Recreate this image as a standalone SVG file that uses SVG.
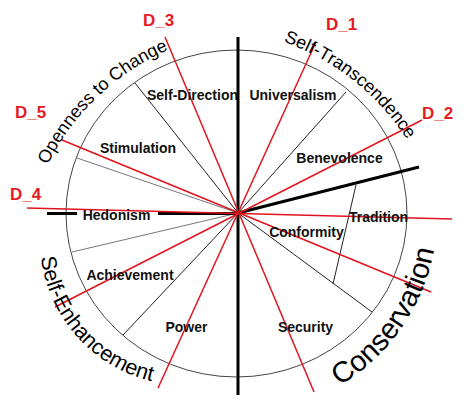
<svg xmlns="http://www.w3.org/2000/svg" width="474" height="409" viewBox="0 0 474 409">
<defs>
<style>
.thin{stroke:#222;stroke-width:1;fill:none}
.gray{stroke:#777;stroke-width:1;fill:none}
.thick{stroke:#000;stroke-width:3;fill:none}
.red{stroke:#e0141e;stroke-width:1.5;fill:none}
.lbl{font-family:"Liberation Sans",Arial,sans-serif;font-weight:bold;font-size:14px;fill:#111;text-anchor:middle}
.dl{font-family:"Liberation Sans",Arial,sans-serif;font-weight:bold;font-size:17px;fill:#e41b23}
.arc{font-family:"Liberation Sans",Arial,sans-serif;fill:#000}
</style>
<path id="pOpen" d="M47.5,165 A243,243 0 0 1 205.1,37.3"/>
<path id="pTrans" d="M283.4,41.7 A242,242 0 0 1 430.4,187.2"/>
<path id="pEnh" d="M41,257.2 A145,145 0 0 0 210.2,382.8"/>
<path id="pCons" d="M339.5,385.8 A201,201 0 0 0 436.7,196"/>
</defs>
<rect width="474" height="409" fill="#fff"/>
<g id="wheel">
<ellipse cx="236.5" cy="213.5" rx="170.5" ry="163.5" stroke="#444" stroke-width="1" fill="none"/>
</g>
<g id="connectors">
<line class="thin" x1="238" y1="213" x2="135" y2="83"/>
<line class="gray" x1="238" y1="213" x2="77" y2="158"/>
<line class="thin" x1="238" y1="213" x2="346" y2="92"/>
<line class="gray" x1="238" y1="213" x2="72" y2="252"/>
<line class="thin" x1="238" y1="213" x2="123" y2="335"/>
<line class="thin" x1="238" y1="213" x2="372" y2="312"/>
<line class="thin" x1="356" y1="185" x2="333" y2="284"/>
<line class="thick" x1="238" y1="37" x2="238" y2="395"/>
<line class="thick" x1="238" y1="213" x2="419" y2="167"/>
<line class="thick" x1="47" y1="213.5" x2="77" y2="213.5"/>
<line class="thick" x1="158" y1="213.5" x2="238" y2="213.5"/>
<line class="red" x1="316" y1="42" x2="158" y2="388"/>
<line class="red" x1="422" y1="120" x2="55" y2="307"/>
<line class="red" x1="165" y1="37" x2="314" y2="392"/>
<line class="red" x1="62" y1="140" x2="431" y2="292"/>
<line class="red" x1="27" y1="208" x2="452" y2="219"/>
</g>
<g id="selfdirection"><text class="lbl" x="192.5" y="100">Self-Direction</text></g>
<g id="universalism"><text class="lbl" x="293" y="100">Universalism</text></g>
<g id="stimulation"><text class="lbl" x="138" y="153">Stimulation</text></g>
<g id="benevolence"><text class="lbl" x="339.5" y="163">Benevolence</text></g>
<g id="hedonism"><text class="lbl" x="116.5" y="220">Hedonism</text></g>
<g id="tradition"><text class="lbl" x="378.5" y="222">Tradition</text></g>
<g id="conformity"><text class="lbl" x="306.5" y="237">Conformity</text></g>
<g id="achievement"><text class="lbl" x="130" y="280">Achievement</text></g>
<g id="power"><text class="lbl" x="186.5" y="332">Power</text></g>
<g id="security"><text class="lbl" x="305.5" y="332">Security</text></g>
<g id="openness"><text class="arc" font-size="18"><textPath href="#pOpen">Openness to Change</textPath></text></g>
<g id="selftranscendence"><text class="arc" font-size="18"><textPath href="#pTrans">Self-Transcendence</textPath></text></g>
<g id="selfenhancement"><text class="arc" font-size="21.5"><textPath href="#pEnh">Self-Enhancement</textPath></text></g>
<g id="conservation"><text class="arc" font-size="29"><textPath href="#pCons">Conservation</textPath></text></g>
<g id="d1"><text class="dl" x="326" y="30">D_1</text></g>
<g id="d2"><text class="dl" x="422" y="118.5">D_2</text></g>
<g id="d3"><text class="dl" x="143" y="26">D_3</text></g>
<g id="d5"><text class="dl" x="15" y="118">D_5</text></g>
<g id="d4"><text class="dl" x="10" y="200">D_4</text></g>
</svg>
